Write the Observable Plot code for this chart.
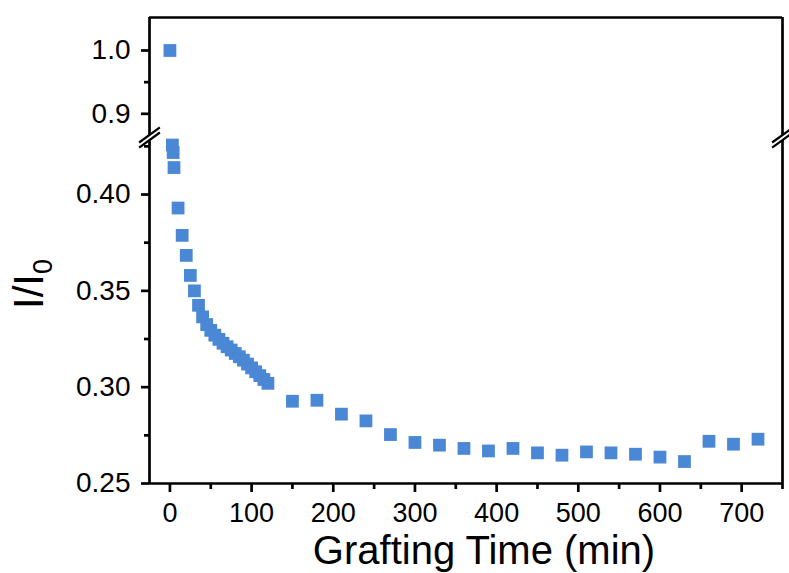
<!DOCTYPE html>
<html><head><meta charset="utf-8">
<script src="https://cdn.jsdelivr.net/npm/d3@7"></script>
<script src="https://cdn.jsdelivr.net/npm/@observablehq/plot@0.6"></script>
<style>
html,body{margin:0;padding:0;background:#fff;}
#chart{position:relative;width:789px;height:573px;overflow:hidden;font-family:"Liberation Sans",Arial,sans-serif;color:#000;}
#topPanel,#bottomPanel{position:absolute;left:0;}
#topPanel{top:0px;}
#bottomPanel{top:137px;}
</style></head><body>
<div id="chart"><div id="topPanel"></div><div id="bottomPanel"></div></div>
<script>
// Data
const times = [0, 3, 4, 5, 10, 15, 20, 25,
  30, 35, 40, 45, 50, 55, 60, 65, 70, 75, 80, 85, 90, 95, 100, 105, 110, 115, 120,
  150, 180, 210, 240, 270, 300, 330, 360, 390, 420, 450, 480, 510, 540, 570, 600, 630, 660, 690, 720];
const ratios = [1.0, 0.4257, 0.4218, 0.414, 0.393, 0.3788, 0.3684, 0.358,
  0.350, 0.3425, 0.3365, 0.3325, 0.3295, 0.327, 0.3248, 0.3228, 0.321, 0.3193, 0.3175, 0.3158, 0.314, 0.312, 0.310, 0.308, 0.306, 0.304, 0.302,
  0.2927, 0.2932, 0.286, 0.2825, 0.2754, 0.2713, 0.2699, 0.2682, 0.2669, 0.2682, 0.2659, 0.2647, 0.2664, 0.2659, 0.2652, 0.2637, 0.2614, 0.2719, 0.2704, 0.273];

const xTicks = [0, 100, 200, 300, 400, 500, 600, 700];
const xMinorTicks = [50, 150, 250, 350, 450, 550, 650, 750];
const yTopTicks = [0.9, 1.0];
const yTopMinorTicks = [0.95];
const yBottomTicks = [0.25, 0.30, 0.35, 0.40];
const yBottomMinorTicks = [0.275, 0.325, 0.375, 0.425];
const xTitle = "Grafting Time (min)";

const xDomain = [-25, 750];
const yTopDomain = [0.8626, 1.0521];
const yBottomDomain = [0.25, 0.4296];

const points = times.map((t, i) => ({t, v: ratios[i]}));
const topPts = points.filter(d => d.v > yTopDomain[0]);
const bottomPts = points.filter(d => d.v <= yBottomDomain[1]);

const blue = "#4a87d5";
const font = "'Liberation Sans', Arial, sans-serif";
const lw = 2.7;
const baseStyle = {background: "transparent", overflow: "visible", fontFamily: font, color: "black"};

const topPlot = Plot.plot({
  width: 789, height: 137,
  marginLeft: 149, marginRight: 7, marginTop: 17, marginBottom: 0,
  x: {domain: xDomain, axis: null},
  y: {domain: yTopDomain},
  style: baseStyle,
  marks: [
    Plot.ruleX(xDomain, {stroke: "black", strokeWidth: lw}),
    Plot.ruleY([yTopDomain[1]], {stroke: "black", strokeWidth: lw}),
    Plot.axisY(yTopTicks, {tickSize: 8, tickPadding: 11, tickFormat: d3.format(".1f"), fontSize: 28, strokeWidth: lw, label: null}),
    Plot.axisY(yTopMinorTicks, {tickSize: 5, tickFormat: () => "", strokeWidth: lw, label: null}),
    Plot.dot(topPts, {x: "t", y: "v", symbol: "square", r: 7.2, fill: blue, stroke: null})
  ]
});
document.getElementById("topPanel").appendChild(topPlot);

const yEdge = yBottomDomain[1];
const breaks = xDomain.map(x => ({x}));
const bx = 12.7, by = 0.0039, off = 0.0013;

const bottomPlot = Plot.plot({
  width: 789, height: 436,
  marginLeft: 149, marginRight: 7, marginTop: 0, marginBottom: 90,
  x: {domain: xDomain},
  y: {domain: yBottomDomain},
  style: baseStyle,
  marks: [
    Plot.ruleX(xDomain, {stroke: "black", strokeWidth: lw}),
    Plot.ruleY([yBottomDomain[0]], {stroke: "black", strokeWidth: lw}),
    Plot.axisY(yBottomTicks, {tickSize: 8, tickPadding: 11, tickFormat: d3.format(".2f"), fontSize: 28, strokeWidth: lw, label: null}),
    Plot.axisY(yBottomMinorTicks, {tickSize: 5, tickFormat: () => "", strokeWidth: lw, label: null}),
    Plot.axisX(xTicks, {tickSize: 9, tickPadding: 10, tickFormat: d3.format("d"), fontSize: 27, strokeWidth: lw, label: null}),
    Plot.axisX(xMinorTicks, {tickSize: 6, tickFormat: () => "", strokeWidth: lw, label: null}),
    Plot.dot(bottomPts, {x: "t", y: "v", symbol: "square", r: 7.2, fill: blue, stroke: null}),
    // axis break marks
    Plot.link(breaks, {x1: d => d.x - bx, x2: d => d.x + bx, y1: yEdge - by, y2: yEdge + by, stroke: "white", strokeWidth: 4.5}),
    Plot.link(breaks, {x1: d => d.x - bx, x2: d => d.x + bx, y1: yEdge - by + off, y2: yEdge + by + off, stroke: "black", strokeWidth: 2.2}),
    Plot.link(breaks, {x1: d => d.x - bx, x2: d => d.x + bx, y1: yEdge - by - off, y2: yEdge + by - off, stroke: "black", strokeWidth: 2.2}),
    Plot.text([xTitle], {text: d => d, frameAnchor: "bottom", dx: 18, dy: 80, lineAnchor: "bottom", textAnchor: "middle", fontSize: 40, fill: "black"})
  ]
});
document.getElementById("bottomPanel").appendChild(bottomPlot);

// y-axis title with subscript
const ylab = d3.select(bottomPlot).append("text")
  .attr("transform", "translate(43,147) rotate(-90)")
  .attr("text-anchor", "middle")
  .attr("font-family", font)
  .attr("font-size", 42)
  .attr("fill", "black");
ylab.append("tspan").text("I/I");
ylab.append("tspan").attr("font-size", 27).attr("dy", 9).text("0");
</script>
</body></html>
